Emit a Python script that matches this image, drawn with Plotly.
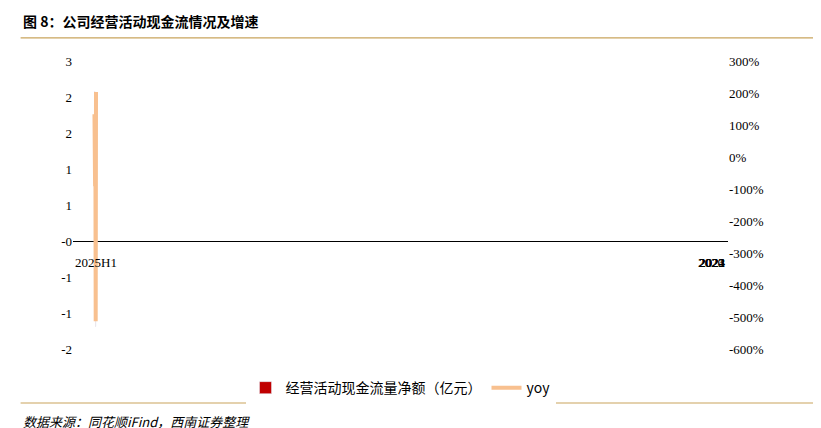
import plotly.graph_objects as go

categories = ["2020", "2021", "2022", "2023", "2024", "2025H1"]
cash_flow = [1.26, 2.08, 0.18, 0.29, -1.19, 0.51]
yoy = [134, 62, -91, 50, -513, 203]
left_ticks = [-1.5, -1.0, -0.5, 0, 0.5, 1.0, 1.5, 2.0, 2.5]
right_ticks = [-600, -500, -400, -300, -200, -100, 0, 100, 200, 300]

fig = go.Figure()
fig.add_trace(go.Bar(x=categories, y=cash_flow, name="经营活动现金流量净额（亿元）",
                     marker_color="#C00000", width=0.4))
fig.add_trace(go.Scatter(x=categories, y=yoy, name="yoy", yaxis="y2", mode="lines",
                         line=dict(color="#F8C08F", width=4)))

for c in categories:
    fig.add_annotation(x=c, y=0, xref="x", yref="y", text=c, showarrow=False,
                       yshift=-21, font=dict(size=13, color="#000"))

fig.update_layout(
    width=821, height=428, paper_bgcolor="white", plot_bgcolor="white",
    margin=dict(l=65, r=101, t=53, b=87),
    font=dict(family="Liberation Serif, Noto Sans CJK SC", size=13, color="#000"),
    xaxis=dict(type="category", showticklabels=False, showline=False, showgrid=False),
    yaxis=dict(range=[-1.5, 2.5], tickvals=left_ticks,
               ticktext=[f"{v:.0f}" if abs(v) % 1 else f"{v:.0f}" for v in [round(t + (0.0001 if t > 0 else -0.0001), 4) for t in left_ticks]],
               showgrid=False, zeroline=True, zerolinecolor="#000", zerolinewidth=1,
               showline=False, ticks=""),
    yaxis2=dict(range=[-600, 300], tickvals=right_ticks,
                ticktext=[f"{v}%" for v in right_ticks],
                overlaying="y", side="right", showgrid=False, zeroline=False),
    legend=dict(orientation="h", x=0.5, xanchor="center", y=-0.08, yanchor="top",
                font=dict(size=14, family="Noto Sans CJK SC")),
    bargap=0.6,
    shapes=[
        dict(type="line", xref="paper", yref="paper", x0=-0.08, x1=1.13, y0=1.08, y1=1.08,
             line=dict(color="#C9A45C", width=1.2)),
        dict(type="line", xref="paper", yref="paper", x0=-0.08, x1=1.13, y0=-0.1875, y1=-0.1875,
             line=dict(color="#C9A45C", width=1.2)),
    ],
)
fig.add_annotation(xref="paper", yref="paper", x=-0.08, y=1.139, xanchor="left", yanchor="middle",
                   text="<b>图 8：公司经营活动现金流情况及增速</b>", showarrow=False,
                   font=dict(size=14, family="Noto Sans CJK SC"))
fig.add_annotation(xref="paper", yref="paper", x=-0.08, y=-0.25, xanchor="left", yanchor="middle",
                   text="<i>数据来源：同花顺iFind，西南证券整理</i>", showarrow=False,
                   font=dict(size=13, family="Noto Sans CJK SC"))
fig.write_html("out.html")
